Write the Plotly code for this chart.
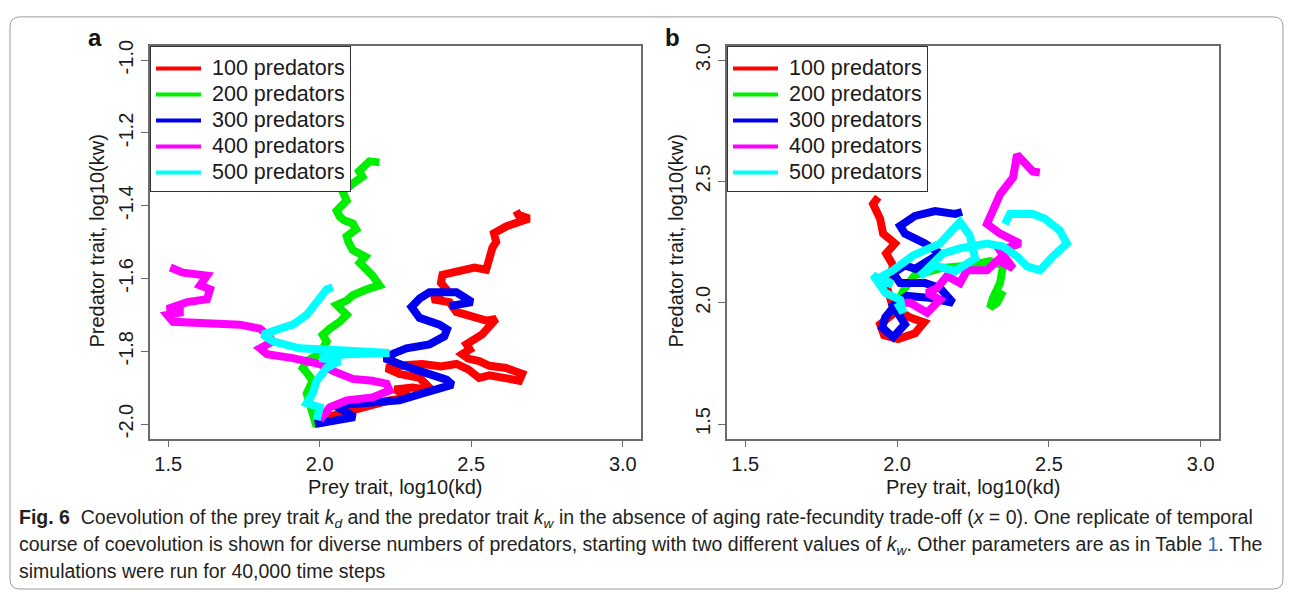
import plotly.graph_objects as go

W, H = 1293, 592

series_names = ["100 predators", "200 predators", "300 predators", "400 predators", "500 predators"]
series_colors = ["#ff0000", "#00ee00", "#0000ee", "#ff00ff", "#00ffff"]

# ---------------- Panel a: log10(kd), log10(kw) ----------------
a_red_x = [2.016, 2.050, 2.082, 2.120, 2.164, 2.200, 2.230, 2.270, 2.296, 2.247, 2.306, 2.372,
           2.350, 2.329, 2.263, 2.220, 2.290, 2.339, 2.400, 2.451, 2.490, 2.526, 2.560, 2.600,
           2.658, 2.668, 2.640, 2.615, 2.560, 2.526, 2.490, 2.470, 2.495, 2.484, 2.536, 2.560,
           2.582, 2.550, 2.526, 2.480, 2.451, 2.428, 2.372, 2.418, 2.400, 2.405, 2.440, 2.470,
           2.510, 2.549, 2.559, 2.570, 2.582, 2.575, 2.615, 2.640, 2.680, 2.691, 2.655, 2.648]
a_red_y = [-1.984, -1.978, -1.968, -1.960, -1.949, -1.944, -1.935, -1.930, -1.924, -1.905, -1.900,
           -1.908, -1.890, -1.873, -1.862, -1.846, -1.838, -1.835, -1.842, -1.835, -1.850, -1.873,
           -1.866, -1.870, -1.881, -1.862, -1.855, -1.846, -1.840, -1.827, -1.820, -1.808, -1.795,
           -1.781, -1.754, -1.735, -1.711, -1.716, -1.711, -1.700, -1.692, -1.665, -1.657, -1.630,
           -1.612, -1.590, -1.584, -1.576, -1.570, -1.576, -1.538, -1.515, -1.500, -1.476, -1.457,
           -1.450, -1.440, -1.435, -1.425, -1.414]

a_green_x = [1.990, 1.975, 1.967, 1.957, 1.977, 1.960, 1.944, 1.957, 1.985, 2.000, 2.023, 2.010,
             2.033, 2.050, 2.066, 2.089, 2.070, 2.056, 2.090, 2.109, 2.155, 2.197, 2.174, 2.150,
             2.132, 2.150, 2.120, 2.109, 2.095, 2.089, 2.120, 2.109, 2.080, 2.066, 2.056, 2.089,
             2.075, 2.109, 2.125, 2.141, 2.130, 2.164, 2.197]
a_green_y = [-2.008, -1.975, -1.943, -1.916, -1.881, -1.862, -1.846, -1.827, -1.818, -1.808, -1.773,
             -1.755, -1.738, -1.730, -1.719, -1.700, -1.684, -1.673, -1.660, -1.646, -1.630, -1.619,
             -1.592, -1.575, -1.557, -1.540, -1.530, -1.522, -1.500, -1.484, -1.465, -1.449, -1.440,
             -1.430, -1.414, -1.386, -1.360, -1.341, -1.330, -1.320, -1.305, -1.278, -1.281]

a_blue_x = [1.984, 2.049, 2.115, 2.082, 2.049, 2.110, 2.164, 2.263, 2.339, 2.438, 2.418, 2.380,
            2.329, 2.263, 2.214, 2.247, 2.286, 2.362, 2.411, 2.420, 2.395, 2.329, 2.303, 2.330,
            2.362, 2.451, 2.503, 2.428]
a_blue_y = [-2.000, -1.989, -1.981, -1.965, -1.949, -1.945, -1.941, -1.935, -1.916, -1.892, -1.878,
            -1.866, -1.854, -1.835, -1.819, -1.805, -1.792, -1.781, -1.759, -1.740, -1.727, -1.708,
            -1.678, -1.655, -1.638, -1.638, -1.665, -1.676]

a_mag_x = [2.000, 2.033, 2.089, 2.174, 2.230, 2.220, 2.174, 2.109, 2.043, 2.000, 1.911, 1.826,
           1.803, 1.845, 1.826, 1.803, 1.737, 1.628, 1.516, 1.497, 1.549, 1.497, 1.563, 1.628,
           1.638, 1.605, 1.628, 1.549, 1.507]
a_mag_y = [-1.989, -1.954, -1.935, -1.927, -1.908, -1.889, -1.881, -1.876, -1.854, -1.835, -1.819,
           -1.808, -1.792, -1.773, -1.754, -1.738, -1.727, -1.724, -1.719, -1.700, -1.692, -1.684,
           -1.665, -1.657, -1.630, -1.619, -1.592, -1.584, -1.570]

a_cyan_x = [1.990, 2.000, 1.957, 1.977, 1.990, 2.023, 2.066, 2.000, 2.089, 2.174, 2.230, 2.066,
            1.934, 1.845, 1.812, 1.868, 1.911, 1.957, 1.990, 2.023, 2.043]
a_cyan_y = [-1.989, -1.954, -1.943, -1.916, -1.881, -1.846, -1.827, -1.819, -1.808, -1.808, -1.805,
            -1.797, -1.792, -1.773, -1.754, -1.738, -1.727, -1.700, -1.665, -1.630, -1.624]

# ---------------- Panel b ----------------
b_red_x = [2.000, 1.984, 1.944, 1.957, 2.003, 2.059, 2.089, 2.043, 1.987, 1.967, 1.987, 1.964,
           1.993, 1.954, 1.944, 1.921, 1.938]
b_red_y = [2.000, 1.951, 1.911, 1.866, 1.850, 1.874, 1.919, 1.939, 1.980, 2.061, 2.154, 2.203,
           2.244, 2.285, 2.346, 2.407, 2.435]

b_green_x = [2.000, 2.026, 2.059, 2.141, 2.240, 2.306, 2.349, 2.339, 2.316, 2.306, 2.329, 2.349]
b_green_y = [2.000, 2.061, 2.114, 2.142, 2.154, 2.171, 2.154, 2.081, 2.020, 1.980, 2.000, 2.049]

b_blue_x = [2.000, 1.961, 1.951, 1.987, 2.026, 1.987, 2.033, 2.108, 2.184, 2.141, 2.092, 2.010,
            1.987, 2.026, 2.060, 2.108, 2.141, 2.092, 2.026, 2.010, 2.059, 2.125, 2.191, 2.214]
b_blue_y = [2.000, 1.939, 1.898, 1.858, 1.911, 1.988, 2.028, 2.020, 2.000, 2.061, 2.081, 2.081,
            2.122, 2.154, 2.140, 2.175, 2.203, 2.244, 2.285, 2.317, 2.358, 2.378, 2.366, 2.374]

b_mag_x = [2.000, 2.043, 2.099, 2.141, 2.099, 2.132, 2.164, 2.207, 2.230, 2.296, 2.339, 2.349,
           2.382, 2.339, 2.405, 2.382, 2.339, 2.296, 2.316, 2.339, 2.382, 2.395, 2.447, 2.470]
b_mag_y = [2.000, 2.000, 1.959, 2.012, 2.041, 2.061, 2.110, 2.081, 2.134, 2.134, 2.183, 2.163,
           2.142, 2.215, 2.244, 2.256, 2.285, 2.325, 2.378, 2.447, 2.516, 2.610, 2.541, 2.537]

b_cyan_x = [2.000, 2.020, 2.010, 1.961, 1.921, 1.950, 1.985, 1.945, 1.987, 2.053, 2.141, 2.191,
            2.207, 2.240, 2.257, 2.191, 2.125, 2.076, 2.151, 2.207, 2.296, 2.349, 2.395, 2.428,
            2.470, 2.513, 2.536, 2.559, 2.536, 2.487, 2.447, 2.372, 2.355]
b_cyan_y = [2.000, 1.959, 2.012, 2.041, 2.114, 2.090, 2.075, 2.105, 2.134, 2.195, 2.244, 2.305,
            2.333, 2.276, 2.183, 2.130, 2.154, 2.110, 2.203, 2.224, 2.244, 2.232, 2.191, 2.150,
            2.134, 2.191, 2.215, 2.244, 2.297, 2.346, 2.366, 2.366, 2.325]

panel_a = [(a_red_x, a_red_y), (a_green_x, a_green_y), (a_blue_x, a_blue_y),
           (a_mag_x, a_mag_y), (a_cyan_x, a_cyan_y)]
panel_b = [(b_red_x, b_red_y), (b_green_x, b_green_y), (b_blue_x, b_blue_y),
           (b_mag_x, b_mag_y), (b_cyan_x, b_cyan_y)]

x_ticks = [1.5, 2.0, 2.5, 3.0]
ya_ticks = [-2.0, -1.8, -1.6, -1.4, -1.2, -1.0]
yb_ticks = [1.5, 2.0, 2.5, 3.0]

FONT = "Liberation Sans, Arial, sans-serif"
LEG_FS = 17.7


def leg_name(s):
    return f"<span style='font-size:21.5px'>\u00a0{s}</span>"


fig = go.Figure()
for panel, xa, ya, lg in [(panel_a, "x", "y", "legend"), (panel_b, "x2", "y2", "legend2")]:
    for i, (xs, ys) in enumerate(panel):
        fig.add_trace(go.Scatter(x=xs, y=ys, mode="lines", showlegend=False,
                                 line=dict(color=series_colors[i], width=8),
                                 xaxis=xa, yaxis=ya, hoverinfo="skip"))
    # legend-only entries (thinner key lines like the reference)
    for i in range(len(series_names)):
        fig.add_trace(go.Scatter(x=[None], y=[None], mode="lines", name=leg_name(series_names[i]),
                                 line=dict(color=series_colors[i], width=4),
                                 xaxis=xa, yaxis=ya, legend=lg))


def px_x(p):
    return p / W


def px_y(p):
    return 1 - p / H


axis_common = dict(showline=True, mirror=True, linecolor="#6b6b6b", linewidth=1.5,
                   ticks="outside", ticklen=7, tickcolor="#6b6b6b", tickwidth=1,
                   showgrid=False, zeroline=False,
                   tickfont=dict(family=FONT, size=20, color="#1a1a1a"))

ydom = [px_y(437), px_y(40)]
leg_common = dict(xanchor="left", yanchor="top", bgcolor="white", bordercolor="#333",
                  borderwidth=1, font=dict(family=FONT, size=LEG_FS, color="#1a1a1a"),
                  itemwidth=45, tracegroupgap=0,
                  title=dict(text="\u00a0", font=dict(size=3)))
fig.update_layout(
    width=W, height=H, margin=dict(l=0, r=0, t=0, b=0),
    paper_bgcolor="white", plot_bgcolor="white",
    xaxis=dict(domain=[px_x(150), px_x(641)], range=[1.44, 3.06], tickvals=x_ticks,
               ticktext=[f"{v:.1f}" for v in x_ticks], anchor="y", **axis_common),
    yaxis=dict(domain=ydom, range=[-2.04, -0.96], tickvals=ya_ticks,
               ticktext=[f"{v:.1f}" for v in ya_ticks], tickangle=-90, anchor="x", **axis_common),
    xaxis2=dict(domain=[px_x(727), px_x(1219)], range=[1.44, 3.06], tickvals=x_ticks,
                ticktext=[f"{v:.1f}" for v in x_ticks], anchor="y2", **axis_common),
    yaxis2=dict(domain=ydom, range=[1.44, 3.06], tickvals=yb_ticks,
                ticktext=[f"{v:.1f}" for v in yb_ticks], tickangle=-90, anchor="x2", **axis_common),
    legend=dict(x=px_x(150), y=px_y(40), **leg_common),
    legend2=dict(x=px_x(727), y=px_y(40), **leg_common),
    showlegend=True,
)

ann = []
title_font = dict(family=FONT, size=20, color="#1a1a1a")
ann.append(dict(text="Prey trait, log10(kd)", x=px_x(395), y=px_y(486), xref="paper", yref="paper",
                showarrow=False, font=title_font, xanchor="center", yanchor="middle"))
ann.append(dict(text="Prey trait, log10(kd)", x=px_x(973), y=px_y(486), xref="paper", yref="paper",
                showarrow=False, font=title_font, xanchor="center", yanchor="middle"))
ann.append(dict(text="Predator trait, log10(kw)", x=px_x(97), y=px_y(238), xref="paper", yref="paper",
                showarrow=False, font=title_font, textangle=-90, xanchor="center", yanchor="middle"))
ann.append(dict(text="Predator trait, log10(kw)", x=px_x(676), y=px_y(238), xref="paper", yref="paper",
                showarrow=False, font=title_font, textangle=-90, xanchor="center", yanchor="middle"))
ann.append(dict(text="<b>a</b>", x=px_x(95), y=px_y(32), xref="paper", yref="paper",
                showarrow=False, font=dict(family=FONT, size=24, color="#111"),
                xanchor="center", yanchor="middle"))
ann.append(dict(text="<b>b</b>", x=px_x(672), y=px_y(32), xref="paper", yref="paper",
                showarrow=False, font=dict(family=FONT, size=24, color="#111"),
                xanchor="center", yanchor="middle"))

CAP_FONT = dict(family="Liberation Sans, Arial, sans-serif", size=19.5, color="#231f20")
cap_lines = [
    "<b>Fig. 6</b>  Coevolution of the prey trait <i>k<sub>d</sub></i> and the predator trait "
    "<i>k<sub>w</sub></i> in the absence of aging rate-fecundity trade-off (<i>x</i> = 0). "
    "One replicate of temporal",
    "course of coevolution is shown for diverse numbers of predators, starting with two different "
    "values of <i>k<sub>w</sub></i>. Other parameters are as in Table "
    "<span style='color:#2a6ebb'>1</span>. The",
    "simulations were run for 40,000 time steps",
]
for txt, yy in zip(cap_lines, [518, 545, 571]):
    ann.append(dict(text=txt, x=px_x(17), y=px_y(yy), xref="paper", yref="paper", showarrow=False,
                    font=CAP_FONT, xanchor="left", yanchor="middle", align="left"))
fig.update_layout(annotations=ann)

# rounded frame around the figure
x0, x1, y0, y1, r = 10, 1283, 11, 589, 10
path = (f"M {px_x(x0 + r)} {px_y(y0)} L {px_x(x1 - r)} {px_y(y0)} "
        f"Q {px_x(x1)} {px_y(y0)} {px_x(x1)} {px_y(y0 + r)} "
        f"L {px_x(x1)} {px_y(y1 - r)} Q {px_x(x1)} {px_y(y1)} {px_x(x1 - r)} {px_y(y1)} "
        f"L {px_x(x0 + r)} {px_y(y1)} Q {px_x(x0)} {px_y(y1)} {px_x(x0)} {px_y(y1 - r)} "
        f"L {px_x(x0)} {px_y(y0 + r)} Q {px_x(x0)} {px_y(y0)} {px_x(x0 + r)} {px_y(y0)} Z")
fig.add_shape(type="path", path=path, xref="paper", yref="paper",
              line=dict(color="#9a9a9a", width=1), fillcolor="rgba(0,0,0,0)", layer="below")

fig.write_html("out.html", config={"displayModeBar": False},
               post_script="document.body.style.margin='0px';document.body.style.overflow='hidden';")
